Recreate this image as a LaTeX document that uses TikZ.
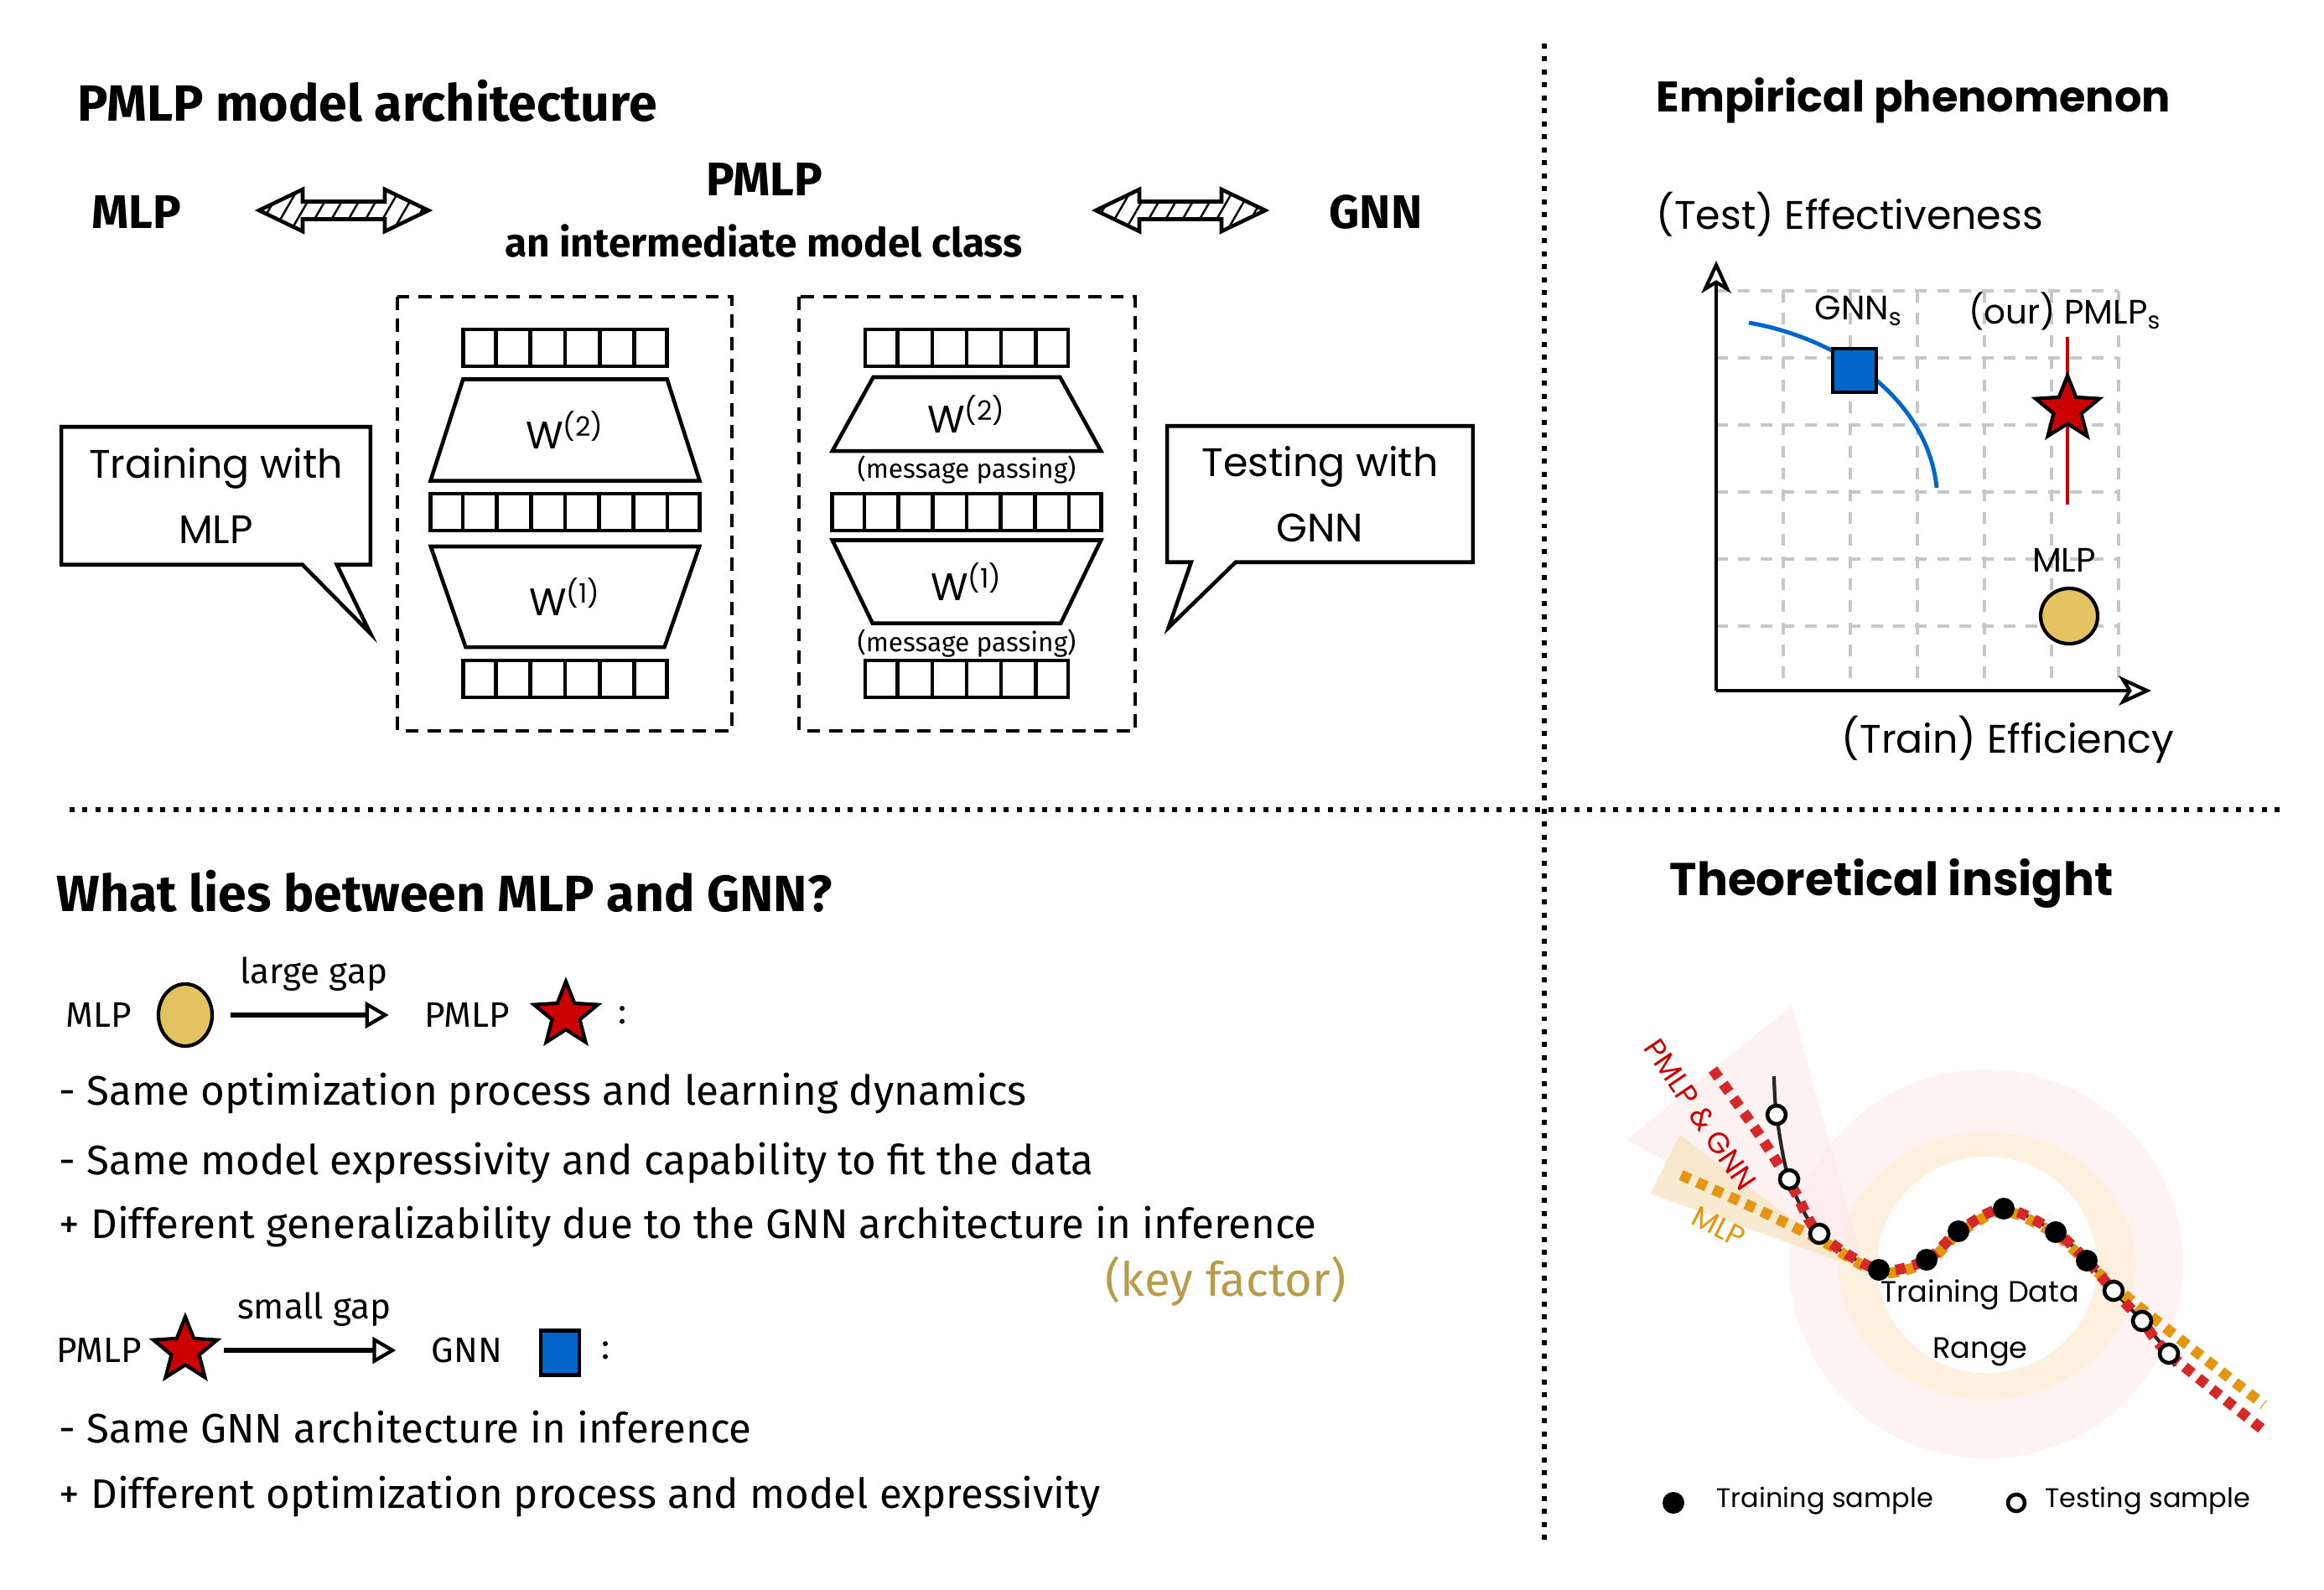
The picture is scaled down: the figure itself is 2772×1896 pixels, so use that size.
\documentclass[tikz,border=0pt]{standalone}
\usepackage{fontspec}
\setmainfont{Fira Sans}
\newfontfamily\sketch{Poppins}
\usetikzlibrary{shapes.geometric,arrows.meta,positioning,calc,patterns.meta}

\definecolor{mlpgold}{RGB}{227,195,95}
\definecolor{pmlpred}{RGB}{204,0,0}
\definecolor{gnnblue}{RGB}{0,102,204}
\definecolor{keygold}{RGB}{185,155,75}
\definecolor{dotred}{RGB}{214,40,40}
\definecolor{dotorange}{RGB}{228,150,15}
\definecolor{ringpink}{RGB}{254,242,242}
\definecolor{ringorange}{RGB}{254,240,222}
\definecolor{wedgepink}{RGB}{252,232,232}
\definecolor{wedgeorange}{RGB}{246,226,190}

\newcommand{\fsz}[2]{\fontsize{#1}{#2}\selectfont}
% vertical separators of a feature vector
\newcommand{\cells}[2]{%
  \pgfmathtruncatemacro\lastcell{#2-1}%
  \foreach \k in {1,...,\lastcell}
    \draw[cellline] ($(#1.north west)!{\k/#2}!(#1.north east)$) -- ($(#1.south west)!{\k/#2}!(#1.south east)$);}

\tikzset{
  pics/dblarr/.style={code={
    \draw[line width=1.3pt, line join=miter, pattern={Lines[angle=60, distance=5pt, line width=0.7pt]}]
      (-101,0) -- (-49,-25) -- (-49,-10.5) -- (49,-10.5) -- (49,-25) -- (101,0)
      -- (49,25) -- (49,10.5) -- (-49,10.5) -- (-49,25) -- cycle;}}
}

\begin{document}
\begin{tikzpicture}[
  x=0.01cm, y=-0.01cm,
  title/.style={font=\bfseries\fsz{17.3}{20}, anchor=west, inner sep=0pt},
  sktitle/.style={font=\sketch\bfseries\fsz{14.5}{18}, anchor=west, inner sep=0pt},
  bigl/.style={font=\bfseries\fsz{16}{19}},
  subl/.style={font=\bfseries\fsz{13.6}{16}},
  divider/.style={line width=1.7pt, dash pattern=on 1.7pt off 2.7pt},
  frame/.style={line width=1.1pt, dash pattern=on 4.5pt off 3pt},
  vec/.style={draw, line width=1.3pt, minimum height=0.44cm, inner sep=0pt},
  cellline/.style={line width=1.3pt},
  wtrap/.style={trapezium, draw, line width=1.3pt, trapezium stretches=true,
                inner sep=0pt, font=\sketch\fsz{13}{15}},
  mp/.style={font=\fsz{9}{10}, inner sep=0pt},
  bubble/.style={align=center, font=\sketch\fsz{13.5}{22}},
  bubline/.style={line width=1.3pt, line join=miter},
  gridline/.style={black!22, line width=0.9pt, dash pattern=on 4pt off 3.5pt},
  axis/.style={line width=1.2pt, -{Stealth[open, length=11pt, width=10pt, inset=3pt]}},
  axl/.style={font=\sketch\fsz{13.5}{16}, inner sep=0pt},
  ptl/.style={font=\sketch\fsz{11.5}{13}},
  gnnsq/.style={rectangle, draw, fill=gnnblue, line width=1.3pt, minimum size=0.52cm, inner sep=0pt},
  pmlpstar/.style={star, star points=5, star point ratio=2.3, draw, fill=pmlpred,
                   line width=1.2pt, minimum size=0.8cm, inner sep=0pt},
  mlpdot/.style={ellipse, draw, fill=mlpgold, line width=1.2pt, minimum width=0.68cm,
                 minimum height=0.66cm, inner sep=0pt},
  rowl/.style={font=\fsz{12}{14}},
  gap/.style={line width=1.8pt, -{Triangle[open, length=8pt, width=9pt, line width=1.2pt]}},
  gapl/.style={font=\fsz{12}{14}, above=4pt},
  item/.style={font=\fsz{14}{16}, anchor=west, inner sep=0pt},
  keyl/.style={font=\fsz{16}{18}, text=keygold},
  fitcurve/.style={line width=3.6pt, dash pattern=on 3.4pt off 2.6pt},
  trainpt/.style={circle, fill=black, minimum size=0.26cm, inner sep=0pt},
  testpt/.style={circle, draw, fill=white, line width=1.3pt, minimum size=0.22cm, inner sep=0pt},
  rotl/.style={font=\sketch\fsz{10}{12}, inner sep=0pt},
  legl/.style={font=\sketch\fsz{9.1}{11}, anchor=west},
]
\useasboundingbox (0,0) rectangle (2772,1896);

% dividers
\draw[divider] (1842,52) -- (1842,1845);
\draw[divider] (83,966) -- (2725,966);

% ---- PMLP model architecture
\node[title] (archT) at (92,120) {PMLP model architecture};
\node[bigl] (mlpTop) at (163,253) {MLP};
\pic (arrA) at (410,251) {dblarr};
\node[bigl] (pmlpTop) at (912,214) {PMLP};
\node[subl] (interT) at (911,288) {an intermediate model class};
\pic (arrB) at (1408,251) {dblarr};
\node[bigl] (gnnTop) at (1641,253) {GNN};

\draw[frame] (474,354) rectangle (873,872);
\draw[frame] (953,354) rectangle (1354,872);

\node[vec, minimum width=2.43cm] (inA) at (674,415) {};
\node[wtrap, trapezium left angle=71.7, trapezium right angle=71.7,
      minimum width=3.21cm, minimum height=1.21cm] (w2A) at (674,513) {W\textsuperscript{(2)}};
\node[vec, minimum width=3.21cm] (midA) at (674,611) {};
\node[wtrap, trapezium left angle=108.4, trapezium right angle=108.4,
      minimum width=3.21cm, minimum height=1.2cm] (w1A) at (674,712) {W\textsuperscript{(1)}};
\node[vec, minimum width=2.43cm] (outA) at (674,810) {};
\cells{inA}{6} \cells{midA}{8} \cells{outA}{6}

\node[vec, minimum width=2.42cm] (inB) at (1153,415) {};
\node[wtrap, trapezium left angle=65.6, trapezium right angle=65.6,
      minimum width=3.21cm, minimum height=0.88cm] (w2B) at (1153,494) {W\textsuperscript{(2)}};
\node[mp] (mpB2) at (1153,560) {(message passing)};
\node[vec, minimum width=3.21cm] (midB) at (1153,611) {};
\node[wtrap, trapezium left angle=112, trapezium right angle=112,
      minimum width=3.21cm, minimum height=0.99cm] (w1B) at (1153,694) {W\textsuperscript{(1)}};
\node[mp] (mpB1) at (1153,767) {(message passing)};
\node[vec, minimum width=2.42cm] (outB) at (1153,810) {};
\cells{inB}{6} \cells{midB}{8} \cells{outB}{6}

% speech bubbles
\node[bubble, minimum width=3.67cm, minimum height=1.63cm] (trainB) at (257.5,591.5) {Training with\\MLP};
\draw[bubline] (trainB.north west) -- (trainB.north east) -- (trainB.south east) -- ++(-40,0)
  -- ++(40,82) -- ++(-81,-82) -- (trainB.south west) -- cycle;
\node[bubble, minimum width=3.63cm, minimum height=1.61cm] (testB) at (1574.5,589.5) {Testing with\\GNN};
\draw[bubline] (testB.north west) -- (testB.north east) -- (testB.south east) -- ++(-283,0)
  -- ++(-80,78) -- ++(27,-78) -- (testB.south west) -- cycle;

% ---- Empirical phenomenon
\node[sktitle] (empT) at (1975,120) {Empirical phenomenon};
\node[axl, anchor=west] (effY) at (1975,256) {(Test) Effectiveness};
\foreach \gx in {2127,2207,...,2527} \draw[gridline] (\gx,347) -- (\gx,824);
\foreach \gy in {347,427,...,747} \draw[gridline] (2047,\gy) -- (2527,\gy);
\coordinate (orig) at (2047,824);
\draw[axis] (orig) -- (2047,311);
\draw[axis] (orig) -- (2566,824);
\node[axl, anchor=east] (effX) at (2594,882) {(Train) Efficiency};

\draw[gnnblue, line width=1.4pt] (2086,385) .. controls (2200,405) and (2300,480) .. (2310,582);
\node[gnnsq] (gnnP) at (2212,442) {};
\draw[pmlpred, line width=1.4pt] (2466,402) -- (2466,602);
\node[pmlpstar] (pmlpP) at (2466,488) {};
\node[mlpdot] (mlpP) at (2468,735) {};
\node[ptl] (gnnPl) at (2217,371) {GNN\textsubscript{s}};
\node[ptl] (pmlpPl) at (2463,371) {(our) PMLP\textsubscript{s}};
\node[ptl] (mlpPl) at (2462,668) {MLP};

% ---- What lies between MLP and GNN?
\node[title] (whatT) at (67,1063) {What lies between MLP and GNN?};
\node[rowl] (mlpL) at (118,1211) {MLP};
\node[mlpdot, minimum width=0.64cm, minimum height=0.74cm] (mlpD) at (221,1211) {};
\node[rowl] (pmlpL) at (557,1211) {PMLP};
\node[pmlpstar] (pmlpS) at (675,1211) {};
\node[rowl] (colA) at (743,1211) {:};
\draw[gap, shorten <=0.2cm, shorten >=0.3cm] (mlpD.east) -- node[gapl]{large gap} (mlpD.east -| pmlpL.west);

\node[item] (itA) at (70,1305) {- Same optimization process and learning dynamics};
\node[item] (itB) at (70,1388) {- Same model expressivity and capability to fit the data};
\node[item] (itC) at (70,1464) {+ Different generalizability due to the GNN architecture in inference};
\node[keyl] (keyF) at (1462,1529) {(key factor)};

\node[rowl] (pmlpL2) at (118,1611) {PMLP};
\node[pmlpstar] (pmlpS2) at (221,1611) {};
\node[rowl] (gnnL2) at (557,1611) {GNN};
\node[gnnsq, minimum width=0.46cm, minimum height=0.53cm] (gnnS2) at (668,1614) {};
\node[rowl] (colB) at (723,1611) {:};
\draw[gap, shorten <=0.2cm, shorten >=0.3cm] (pmlpS2.east) -- node[gapl]{small gap} (pmlpS2.east -| gnnL2.west);

\node[item] (itD) at (70,1703) {- Same GNN architecture in inference};
\node[item] (itE) at (70,1786) {+ Different optimization process and model expressivity};

% ---- Theoretical insight
\node[sktitle, font=\sketch\bfseries\fsz{15.6}{18}] (theoT) at (1991,1054) {Theoretical insight};
\fill[ringpink] (2369,1508) ellipse [x radius=235, y radius=232];
\fill[ringorange] (2370,1510) ellipse [x radius=177, y radius=160];
\fill[white] (2370,1509) ellipse [x radius=131, y radius=129];
\fill[wedgepink, fill opacity=0.6] (1940,1360) -- (2137,1200) -- (2224,1514) -- cycle;
\fill[wedgeorange, fill opacity=0.7] (2004,1354) -- (1968,1424) -- (2212,1511) -- cycle;

\draw[line width=1.2pt, black!85] plot[smooth] coordinates {(2116,1284) (2119,1330) (2134,1407)
  (2170,1472) (2241,1515) (2298,1503) (2336,1469) (2390,1442) (2452,1470) (2489,1504)
  (2521,1540) (2555,1576) (2587,1615) (2594,1630)};
\draw[fitcurve, dotorange] plot[smooth] coordinates {(2005,1402) (2090,1440) (2172,1480)
  (2241,1518) (2298,1506) (2336,1472) (2390,1445) (2452,1473) (2495,1512) (2560,1566) (2700,1676)};
\draw[fitcurve, dotred] plot[smooth] coordinates {(2043,1276) (2100,1356) (2140,1420)
  (2170,1472) (2241,1515) (2298,1503) (2336,1469) (2390,1442) (2452,1470) (2489,1504)
  (2521,1540) (2555,1576) (2587,1615) (2702,1708)};

\foreach \px/\py [count=\i] in {2241/1515, 2298/1503, 2336/1469, 2390/1442, 2452/1470, 2489/1504}
  \node[trainpt] (tr\i) at (\px,\py) {};
\foreach \px/\py [count=\i] in {2119/1330, 2134/1407, 2170/1472, 2521/1540, 2555/1576, 2587/1615}
  \node[testpt] (te\i) at (\px,\py) {};

\node[font=\sketch\fsz{10}{13}, align=center] (rangeT) at (2362,1578) {Training Data\\[6pt]Range};
\node[rotl, text=pmlpred, rotate=-56] (pmlpR) at (2028,1330) {PMLP \& GNN};
\node[rotl, text=dotorange, rotate=-27] (mlpR) at (2050,1464) {MLP};

\node[trainpt] (legTr) at (1996,1793) {};
\node[legl] (legTrl) at (2035,1791) {Training sample};
\node[testpt, minimum size=0.2cm] (legTe) at (2405,1793) {};
\node[legl] (legTel) at (2427,1791) {Testing sample};

\end{tikzpicture}
\end{document}
